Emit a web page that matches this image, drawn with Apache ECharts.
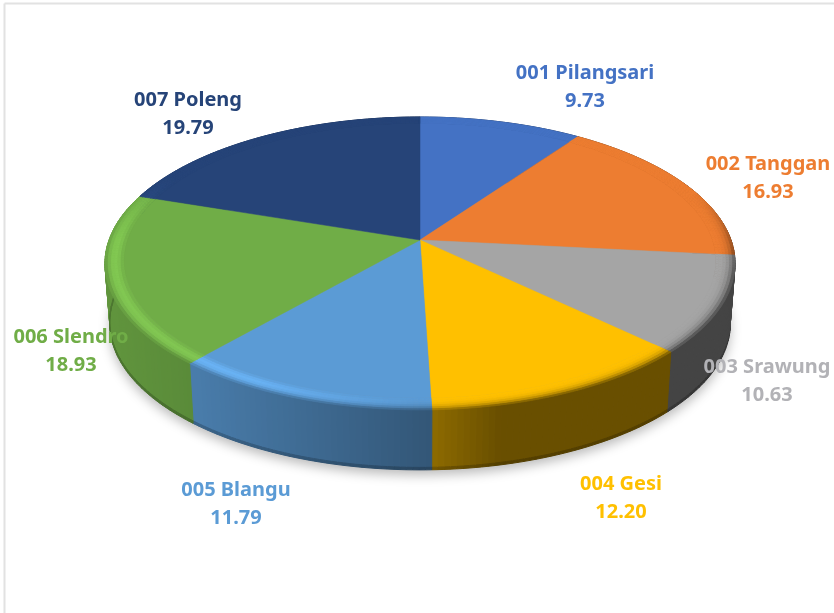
<!DOCTYPE html>
<html>
<head>
<meta charset="utf-8">
<style>html,body{margin:0;padding:0;background:#fff}#main{width:834px;height:613px}</style>
<script src="https://cdn.jsdelivr.net/npm/echarts@6/dist/echarts.min.js"></script>
</head>
<body>
<div id="main"></div>
<script>
// data
var names = ['001 Pilangsari', '002 Tanggan', '003 Srawung', '004 Gesi', '005 Blangu', '006 Slendro', '007 Poleng'];
var values = [9.73, 16.93, 10.63, 12.20, 11.79, 18.93, 19.79];
var valueLabels = ['9.73', '16.93', '10.63', '12.20', '11.79', '18.93', '19.79'];
var colors = ['#4472c4', '#ed7d31', '#a5a5a5', '#ffc000', '#5b9bd5', '#70ad47', '#264478'];
// label centres in pixels
var labelX = [585, 768, 767, 621, 236, 71, 188];
var labelY = [87, 178, 381, 498, 504, 351, 114];

// tilted disc, perspective projection
var cx = 420, cy = 240, radX = 311, radY = 142.7, persp = 0.16;
var depth = 60, lowerScale = 0.985, bevelStart = 0.94;
var STEP = 1;

var total = values.reduce(function (a, b) { return a + b; }, 0);
var startAngle = [];
var sum = 0;
values.forEach(function (v) { startAngle.push(sum / total * 360); sum += v; });

function project(deg, r) {
  var a = deg * Math.PI / 180;
  var u = r * Math.sin(a), v = r * Math.cos(a);
  var w = 1 / (1 + persp * v);
  return [cx + radX * u * w, cy - radY * v * w];
}
function lower(p) {
  return [cx + (p[0] - cx) * lowerScale, p[1] + depth];
}
function clamp(x) { return Math.max(0, Math.min(1, x)); }

function shade(hex, f) {
  var rgb = [1, 3, 5].map(function (i) { return parseInt(hex.substr(i, 2), 16); });
  var out = rgb.map(function (c) { return Math.min(255, Math.round(c * f)); });
  return 'rgb(' + out.join(',') + ')';
}
// side wall gets darker from left to right, flat after x=500
function wallFactor(deg) {
  var x = project(deg, 1)[0];
  if (x < 195) return 0.86 - 0.06 * clamp((x - 105) / 90);
  if (x < 430) return 0.8 - 0.24 * (x - 195) / 235;
  return 0.56 - 0.15 * clamp((x - 430) / 70);
}
function bevelFactor(deg, t) {
  var a = deg * Math.PI / 180;
  var u = Math.sin(a), v = Math.cos(a);
  var edge = 1 + (wallFactor(deg) - 1) * clamp((0.35 - v) / 0.6);
  var hl = clamp(-u * 2.2) * clamp((0.5 - v) / 0.5);
  return 1 + (edge - 1) * t * t * t + hl * 0.17 * Math.sin(Math.PI * t);
}
function anglesOf(i) {
  var from = startAngle[i];
  var to = i + 1 < values.length ? startAngle[i + 1] : 360;
  var list = [];
  for (var d = from; d < to; d += STEP) list.push(d);
  list.push(to);
  return list;
}
function quad(p, fill) {
  return { type: 'polygon', shape: { points: p }, style: { fill: fill, stroke: fill, lineWidth: 1 } };
}

// side wall of one slice
function renderWall(params) {
  var i = params.dataIndex, kids = [];
  var list = anglesOf(i);
  for (var k = 0; k < list.length - 1; k++) {
    var a0 = list[k], a1 = list[k + 1];
    var t0 = project(a0, 1), t1 = project(a1, 1);
    var b0 = lower(t0), b1 = lower(t1);
    var f = wallFactor((a0 + a1) / 2);
    var s0 = [b0[0], b0[1] - 2.5], s1 = [b1[0], b1[1] - 2.5];
    kids.push(quad([t0, t1, s1, s0], shade(colors[i], f)));
    kids.push(quad([s0, s1, b1, b0], shade(colors[i], f * 0.8)));
  }
  return { type: 'group', children: kids };
}

// top face of one slice with its rounded rim
function renderTop(params) {
  var i = params.dataIndex;
  var list = anglesOf(i);
  var kids = [];
  var bands = 6;
  // outer rings first, each one painted over by the next ring inwards
  for (var b = bands - 1; b >= 0; b--) {
    var r0 = bevelStart + (1 - bevelStart) * b / bands;
    var r1 = bevelStart + (1 - bevelStart) * (b + 1) / bands;
    for (var k = 0; k < list.length - 1; k++) {
      var mid = (list[k] + list[k + 1]) / 2;
      var fill = shade(colors[i], bevelFactor(mid, (b + 0.5) / bands));
      kids.push({
        type: 'polygon',
        shape: { points: [project(list[k], r0), project(list[k + 1], r0), project(list[k + 1], r1), project(list[k], r1)] },
        style: { fill: fill, stroke: fill, lineWidth: 0.8 }
      });
    }
  }
  var pts = [project(0, 0)];
  list.forEach(function (d) { pts.push(project(d, bevelStart)); });
  kids.push({ type: 'polygon', shape: { points: pts }, style: { fill: colors[i], stroke: colors[i], lineWidth: 0.5 } });
  return { type: 'group', children: kids };
}

function renderShadow(params) {
  if (params.dataIndex !== 0) return null;
  var pts = [];
  for (var d = 0; d < 360; d += 3) pts.push(lower(project(d, 1)));
  return {
    type: 'polygon', shape: { points: pts },
    style: { fill: '#999', shadowColor: 'rgba(0,0,0,0.28)', shadowBlur: 12, shadowOffsetY: 5 }
  };
}

function renderLabel(params) {
  var i = params.dataIndex;
  return {
    type: 'text', x: labelX[i], y: labelY[i],
    style: {
      text: names[i] + '\n' + valueLabels[i],
      fill: colors[i] === '#a5a5a5' ? '#b2b2b6' : colors[i],
      font: 'bold 20px "Noto Sans"', lineHeight: 28,
      align: 'center', verticalAlign: 'middle'
    }
  };
}

var chart = echarts.init(document.getElementById('main'), null, { renderer: 'canvas' });
function layer(fn, z) {
  return { type: 'custom', coordinateSystem: 'none', data: values, renderItem: fn, z: z, silent: true, animation: false };
}
chart.setOption({
  animation: false,
  backgroundColor: '#fff',
  tooltip: { show: false },
  graphic: [
    { type: 'line', shape: { x1: 4.5, y1: 3.5, x2: 834, y2: 3.5 }, style: { stroke: '#e2e2e2', lineWidth: 2 } },
    { type: 'line', shape: { x1: 4.5, y1: 3.5, x2: 4.5, y2: 613 }, style: { stroke: '#e2e2e2', lineWidth: 2 } }
  ],
  series: [
    layer(renderShadow, 1),
    layer(renderWall, 2),
    layer(renderTop, 3),
    layer(renderLabel, 4)
  ]
});
</script>
</body>
</html>
